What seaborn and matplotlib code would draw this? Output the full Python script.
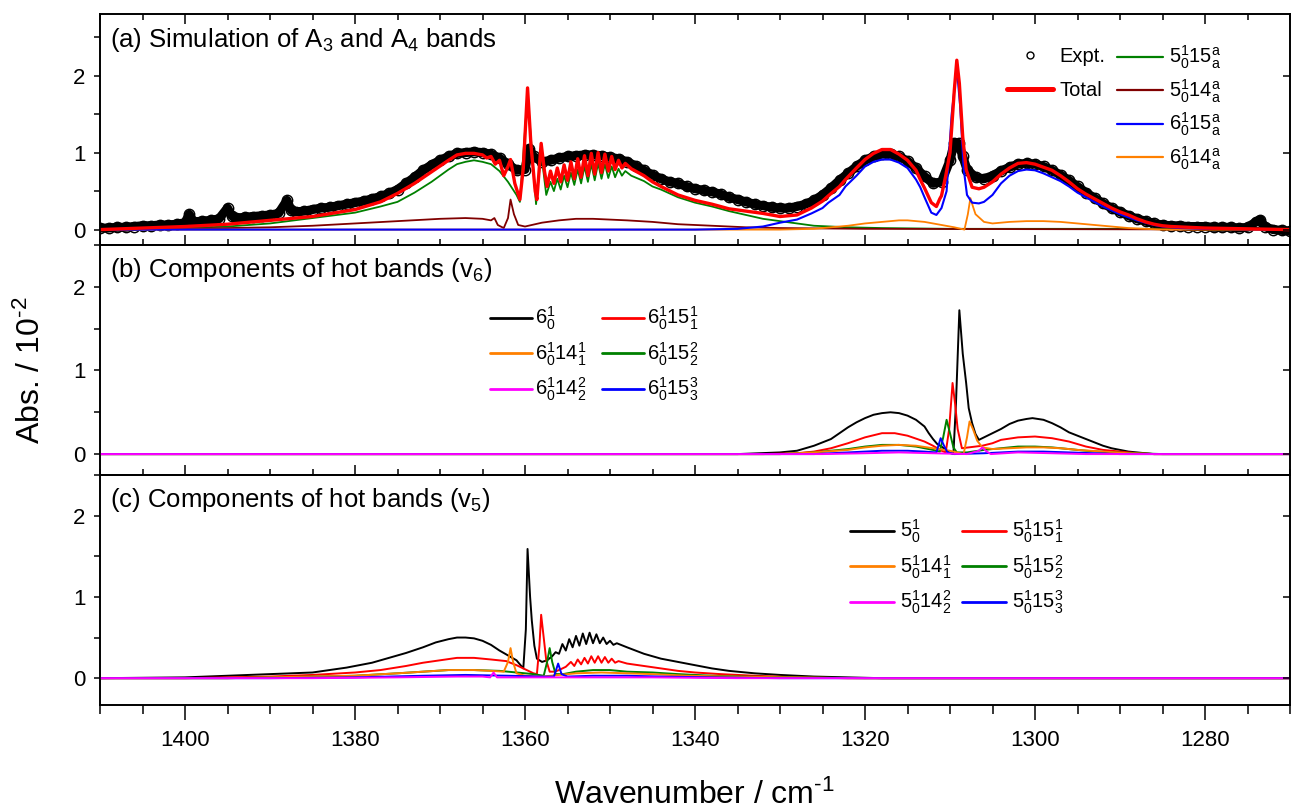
import matplotlib
matplotlib.use("Agg")
import matplotlib.pyplot as plt
import seaborn as sns
from matplotlib.lines import Line2D
from matplotlib.ticker import MultipleLocator

# ---------------- panel (a): experiment + simulated components ----------------
a_expt_x = [1410, 1409, 1408, 1407, 1406, 1405, 1404, 1403, 1402, 1401, 1400, 1399.5, 1399, 1398,
            1397, 1396, 1395, 1394.5, 1394, 1393, 1392, 1391, 1390, 1389, 1388, 1387.5, 1387, 1386,
            1385, 1384, 1383, 1382, 1381, 1380, 1379, 1378, 1377, 1376, 1375, 1374, 1373, 1372,
            1371, 1370, 1369, 1368, 1367, 1366, 1365, 1364, 1363, 1362, 1361, 1360, 1359.5, 1359,
            1358, 1357, 1356, 1355, 1354, 1353, 1352, 1351, 1350, 1349, 1348, 1347, 1346, 1345,
            1344, 1343, 1342, 1341, 1340, 1339, 1338, 1337, 1336, 1335, 1334, 1333, 1332, 1331,
            1330, 1329, 1328, 1327, 1326, 1325, 1324, 1323, 1322, 1321, 1320, 1319, 1318, 1317,
            1316, 1315, 1314, 1313, 1312, 1311, 1310, 1309.5, 1309, 1308.5, 1308, 1307, 1306, 1305,
            1304, 1303, 1302, 1301, 1300, 1299, 1298, 1297, 1296, 1295, 1294, 1293, 1292, 1291,
            1290, 1289, 1288, 1287, 1286, 1285, 1284, 1283, 1282, 1281, 1280, 1279, 1278, 1277,
            1276, 1275, 1274, 1273.5, 1273, 1272, 1271, 1270]
a_expt_y = [0.02, 0.02, 0.03, 0.03, 0.04, 0.05, 0.05, 0.06, 0.06, 0.07, 0.09, 0.2, 0.1, 0.11,
            0.12, 0.14, 0.28, 0.18, 0.15, 0.16, 0.17, 0.18, 0.19, 0.21, 0.38, 0.25, 0.23, 0.24,
            0.26, 0.28, 0.29, 0.31, 0.33, 0.35, 0.37, 0.4, 0.43, 0.47, 0.52, 0.6, 0.68, 0.77,
            0.84, 0.9, 0.95, 0.99, 1.0, 1.01, 1.0, 0.98, 0.93, 0.85, 0.77, 0.78, 1.05, 0.95,
            0.88, 0.9, 0.93, 0.95, 0.96, 0.97, 0.97, 0.96, 0.94, 0.92, 0.88, 0.83, 0.77, 0.71,
            0.66, 0.62, 0.6, 0.56, 0.53, 0.51, 0.49, 0.46, 0.42, 0.39, 0.36, 0.33, 0.31, 0.29,
            0.28, 0.28, 0.3, 0.33, 0.38, 0.45, 0.54, 0.64, 0.73, 0.82, 0.9, 0.95, 0.98, 0.98,
            0.95, 0.89, 0.8, 0.69, 0.6, 0.62, 0.9, 1.13, 1.12, 0.95, 0.78, 0.68, 0.66, 0.7,
            0.76, 0.81, 0.85, 0.86, 0.85, 0.82, 0.77, 0.71, 0.64, 0.56, 0.48, 0.41, 0.34, 0.28,
            0.23, 0.18, 0.14, 0.11, 0.08, 0.06, 0.05, 0.05, 0.04, 0.04, 0.04, 0.03, 0.03, 0.03,
            0.02, 0.03, 0.1, 0.13, 0.04, 0.0, -0.01, -0.02]

a_total_x = [1410, 1405, 1400, 1395, 1390, 1385, 1380, 1377, 1375, 1373, 1371, 1369, 1368, 1367,
             1366, 1365, 1364.5, 1364, 1363.5, 1363, 1362.5, 1362, 1361.7, 1361.2, 1360.6, 1360.2,
             1359.7, 1359.3, 1358.8, 1358.6, 1358.1, 1357.7, 1357.4,
             1357.0, 1356.6, 1356.2, 1355.8, 1355.4, 1355.0, 1354.6, 1354.2, 1353.8, 1353.4,
             1353.0, 1352.6, 1352.2, 1351.8, 1351.4, 1351.0, 1350.6, 1350.2, 1349.8, 1349.4,
             1349.0, 1348.6, 1348.2, 1347.5, 1346, 1345, 1344, 1342, 1340, 1338, 1336, 1334, 1332,
             1330, 1328, 1326.3, 1325, 1324.3, 1323, 1322.3, 1321, 1320, 1319, 1318, 1317, 1316,
             1315, 1314, 1313.5, 1313, 1312.2, 1311.6, 1311.2, 1311, 1310.5, 1310, 1309.5, 1309.2,
             1308.9, 1308.5, 1308.1, 1307.4, 1306.6, 1306, 1305, 1304, 1303, 1302, 1301, 1300,
             1299, 1298, 1297, 1296, 1295, 1294, 1293, 1292, 1291, 1290, 1289, 1288, 1287, 1286,
             1285, 1284, 1282, 1280, 1275, 1270]
a_total_y = [0.0, 0.02, 0.04, 0.07, 0.12, 0.17, 0.26, 0.36, 0.47, 0.6, 0.75, 0.9, 0.97, 0.99,
             0.99, 0.97, 0.93, 0.95, 0.85, 0.9, 0.7, 0.82, 0.91, 0.6, 0.39, 0.8,
             1.84, 1.1, 0.5, 0.39, 1.12, 0.75, 0.56,
             0.76, 0.6, 0.8, 0.62, 0.84, 0.64, 0.88, 0.66, 0.92, 0.68,
             0.96, 0.7, 0.99, 0.72, 1.0, 0.74, 0.98, 0.76, 0.95, 0.78,
             0.9, 0.8, 0.86, 0.79, 0.7, 0.62, 0.56, 0.45, 0.38, 0.33, 0.27, 0.24, 0.21,
             0.17, 0.19, 0.28, 0.37, 0.44, 0.56, 0.65, 0.8, 0.91, 0.99, 1.04, 1.04, 0.98,
             0.9, 0.77, 0.65, 0.54, 0.35, 0.3, 0.4, 0.44, 0.7, 1.0, 1.8, 2.2,
             1.9, 1.2, 0.78, 0.55, 0.53, 0.55, 0.62, 0.72, 0.8, 0.86, 0.87, 0.85,
             0.81, 0.77, 0.7, 0.62, 0.53, 0.46, 0.4, 0.34, 0.28, 0.23, 0.19, 0.14, 0.1, 0.07,
             0.05, 0.04, 0.03, 0.02, 0.01, 0.0]

a_5_15_x = [1410, 1400, 1395, 1390, 1385, 1380, 1377, 1375, 1373, 1371, 1369, 1368, 1367, 1366,
            1365, 1364, 1363, 1362, 1361, 1360.6, 1359.7, 1358.7, 1358.1, 1357.5,
            1357.0, 1356.6, 1356.2, 1355.8, 1355.4, 1355.0, 1354.6, 1354.2, 1353.8, 1353.4,
            1353.0, 1352.6, 1352.2, 1351.8, 1351.4, 1351.0, 1350.6, 1350.2, 1349.8, 1349.4,
            1349.0, 1348.6, 1348.2, 1347.5, 1346, 1345, 1344, 1342, 1340, 1338, 1336, 1334, 1332,
            1330, 1328, 1326, 1322, 1318, 1310, 1290, 1270]
a_5_15_y = [0.0, 0.02, 0.04, 0.08, 0.15, 0.22, 0.3, 0.36, 0.48, 0.62, 0.78, 0.85, 0.88, 0.9,
            0.88, 0.85, 0.76, 0.62, 0.45, 0.36, 1.75, 0.33, 1.0, 0.45,
            0.62, 0.5, 0.66, 0.52, 0.7, 0.55, 0.74, 0.58, 0.78, 0.6,
            0.82, 0.62, 0.85, 0.64, 0.86, 0.66, 0.85, 0.67, 0.82, 0.68,
            0.79, 0.7, 0.76, 0.7, 0.63, 0.56, 0.52, 0.42, 0.35, 0.3, 0.24, 0.19, 0.14,
            0.11, 0.08, 0.05, 0.03, 0.02, 0.01, 0.01, 0.01]

a_5_14_x = [1410, 1400, 1390, 1385, 1380, 1375, 1370, 1367, 1365, 1364, 1363.6, 1363.2, 1362.5,
            1362, 1361.7, 1361.3, 1360.8, 1360, 1358, 1356, 1354, 1352, 1350, 1348, 1345, 1342,
            1338, 1334, 1330, 1320, 1270]
a_5_14_y = [0.0, 0.01, 0.03, 0.05, 0.08, 0.11, 0.14, 0.15, 0.14, 0.12, 0.15, 0.06, 0.02,
            0.15, 0.39, 0.2, 0.06, 0.04, 0.09, 0.12, 0.14, 0.14, 0.13, 0.12, 0.1, 0.07,
            0.05, 0.03, 0.02, 0.01, 0.0]

a_6_15_x = [1410, 1340, 1335, 1332, 1330, 1328, 1326.3, 1325, 1324.3, 1323, 1322.3, 1321, 1320,
            1319, 1318, 1317, 1316, 1315, 1314, 1313.5, 1313, 1312.2, 1311.6, 1311, 1310.4,
            1309.8, 1309.2, 1308.8, 1308.4, 1308, 1307.4, 1306.6, 1306, 1305, 1304, 1303, 1302,
            1301, 1300, 1299, 1298, 1297, 1296, 1295, 1294, 1293, 1292, 1291, 1290, 1289, 1288,
            1287, 1286, 1285, 1283, 1280, 1270]
a_6_15_y = [0.0, 0.0, 0.01, 0.04, 0.09, 0.13, 0.21, 0.28, 0.35, 0.45, 0.56, 0.7, 0.82,
            0.88, 0.91, 0.91, 0.87, 0.8, 0.65, 0.55, 0.42, 0.22, 0.19, 0.28, 0.5,
            1.5, 2.1, 1.6, 0.8, 0.45, 0.35, 0.34, 0.36, 0.45, 0.6, 0.7, 0.76,
            0.78, 0.77, 0.73, 0.68, 0.63, 0.56, 0.48, 0.42, 0.36, 0.3, 0.25, 0.2, 0.16, 0.12,
            0.09, 0.06, 0.04, 0.02, 0.01, 0.0]

a_6_14_x = [1410, 1330, 1326, 1324, 1322, 1320, 1318, 1316, 1315, 1313, 1311, 1309.5, 1308.3,
            1307.9, 1307.6, 1307.3, 1307, 1306.5, 1306, 1305, 1303, 1301, 1299, 1297, 1295,
            1293, 1291, 1289, 1287, 1285, 1270]
a_6_14_y = [0.0, 0.0, 0.01, 0.03, 0.05, 0.08, 0.1, 0.12, 0.12, 0.1, 0.06, 0.03, 0.0,
            0.2, 0.41, 0.3, 0.2, 0.15, 0.1, 0.08, 0.1, 0.11, 0.11, 0.1, 0.08,
            0.06, 0.04, 0.02, 0.01, 0.0, 0.0]

# ---------------- panel (b): hot-band components of v6 ----------------
b_6_x = [1410, 1335, 1330, 1328, 1326, 1324, 1323, 1322, 1321, 1320, 1319, 1318, 1317, 1316,
         1315, 1314, 1313, 1312.5, 1312, 1311.5, 1311, 1310.5, 1310.1, 1309.6, 1309.3, 1308.9,
         1308.5, 1308.1, 1307.8, 1307.4, 1307, 1306.6, 1306, 1305.4, 1304, 1303, 1302, 1301,
         1300.3, 1299, 1298, 1297, 1296, 1295, 1294, 1293, 1292, 1291, 1290, 1289, 1288, 1286,
         1270]
b_6_y = [0.0, 0.0, 0.02, 0.04, 0.1, 0.18, 0.25, 0.32, 0.38, 0.43, 0.47, 0.49, 0.5, 0.49,
         0.46, 0.41, 0.33, 0.25, 0.18, 0.12, 0.09, 0.05, 0.02, 0.0, 0.6, 1.72,
         1.2, 0.85, 0.55, 0.37, 0.24, 0.17, 0.2, 0.23, 0.3, 0.36, 0.4, 0.42,
         0.43, 0.41, 0.37, 0.32, 0.26, 0.22, 0.18, 0.14, 0.1, 0.07, 0.05, 0.03, 0.02, 0.0,
         0.0]

b_6_15_1_x = [1410, 1332, 1328, 1326, 1324, 1322, 1320, 1318, 1316.5, 1315, 1313, 1312, 1311,
              1310.5, 1310.1, 1309.7, 1309.4, 1309.1, 1308.6, 1307.8, 1306.2, 1305, 1304, 1302,
              1300, 1298, 1296, 1294, 1292, 1290, 1288, 1286, 1270]
b_6_15_1_y = [0.0, 0.0, 0.01, 0.03, 0.07, 0.13, 0.2, 0.25, 0.25, 0.22, 0.15, 0.1, 0.04,
              0.02, 0.3, 0.85, 0.6, 0.3, 0.07, 0.08, 0.1, 0.13, 0.17, 0.2,
              0.21, 0.19, 0.15, 0.09, 0.05, 0.03, 0.01, 0.0, 0.0]

b_6_15_2_x = [1410, 1330, 1326, 1322, 1320, 1318, 1316, 1314, 1312, 1311.2, 1310.8, 1310.4,
              1310, 1309.6, 1309.2, 1308, 1306, 1304, 1302, 1300, 1298, 1296, 1294, 1291, 1288,
              1285, 1270]
b_6_15_2_y = [0.0, 0.0, 0.02, 0.06, 0.09, 0.11, 0.11, 0.09, 0.05, 0.03, 0.2, 0.41,
              0.25, 0.08, 0.02, 0.02, 0.05, 0.07, 0.09, 0.09, 0.08, 0.06, 0.04, 0.02, 0.01,
              0.0, 0.0]

b_6_14_1_x = [1410, 1330, 1326, 1322, 1320, 1318, 1316, 1314, 1312, 1310, 1308.4, 1308, 1307.7,
              1307.3, 1306.8, 1306.2, 1305, 1303, 1301, 1299, 1297, 1295, 1292, 1289, 1286, 1270]
b_6_14_1_y = [0.0, 0.0, 0.02, 0.05, 0.08, 0.1, 0.11, 0.1, 0.07, 0.04, 0.0, 0.2, 0.39,
              0.3, 0.16, 0.08, 0.06, 0.07, 0.08, 0.08, 0.07, 0.05, 0.03, 0.01, 0.0, 0.0]

b_6_15_3_x = [1410, 1326, 1322, 1318, 1315, 1313, 1311.6, 1311.1, 1310.7, 1310.3, 1309.5, 1306,
              1302, 1299, 1296, 1293, 1290, 1270]
b_6_15_3_y = [0.0, 0.0, 0.02, 0.04, 0.04, 0.03, 0.02, 0.19, 0.1, 0.02, 0.0, 0.01,
              0.03, 0.03, 0.02, 0.01, 0.0, 0.0]

b_6_14_2_x = [1410, 1325, 1320, 1316, 1312, 1308, 1306.6, 1306.2, 1305.8, 1305.2, 1302, 1298,
              1294, 1270]
b_6_14_2_y = [0.0, 0.0, 0.01, 0.02, 0.01, 0.0, 0.04, 0.08, 0.04, 0.0, 0.02, 0.01,
              0.0, 0.0]

# ---------------- panel (c): hot-band components of v5 ----------------
c_5_x = [1410, 1400, 1395, 1390, 1385, 1381, 1378, 1376, 1374, 1372, 1370.5, 1369, 1368, 1367,
         1366, 1365, 1364, 1363, 1362, 1361, 1360.6, 1360.2, 1359.9, 1359.7, 1359.4, 1359.2,
         1358.9, 1358.6, 1358, 1357.4, 1356.8, 1356.4, 1356, 1355.6, 1355.2, 1354.8, 1354.4,
         1354, 1353.6, 1353.2, 1352.8, 1352.4, 1352, 1351.6, 1351.2, 1350.8, 1350.4, 1350,
         1349.6, 1349.2, 1348, 1347, 1346, 1345, 1344, 1343, 1342, 1340, 1338, 1336, 1333,
         1330, 1326, 1322, 1318, 1270]
c_5_y = [0.0, 0.01, 0.03, 0.05, 0.07, 0.13, 0.19, 0.25, 0.31, 0.38, 0.44, 0.48, 0.5, 0.5,
         0.49, 0.46, 0.41, 0.34, 0.28, 0.22, 0.17, 0.12, 0.6, 1.59, 1.0, 0.71,
         0.4, 0.24, 0.2, 0.22, 0.27, 0.32, 0.3, 0.42, 0.34, 0.48, 0.38,
         0.52, 0.4, 0.55, 0.42, 0.56, 0.43, 0.54, 0.43, 0.5, 0.42, 0.46,
         0.41, 0.43, 0.38, 0.34, 0.3, 0.27, 0.24, 0.22, 0.2, 0.16, 0.12, 0.09, 0.06,
         0.04, 0.02, 0.01, 0.0, 0.0]

c_5_15_1_x = [1410, 1400, 1390, 1385, 1380, 1377, 1374, 1372, 1370, 1368, 1366, 1364, 1362.2,
              1361, 1359.8, 1359, 1358.6, 1358.3, 1358.1, 1357.8, 1357.5, 1357.1, 1356.5, 1356,
              1355.2, 1354.6, 1354.2, 1353.8, 1353.4, 1353, 1352.6, 1352.2, 1351.8, 1351.4,
              1351, 1350.6, 1350.2, 1349.8, 1349.4, 1349, 1348, 1346, 1344, 1342, 1340, 1337,
              1333, 1328, 1322, 1270]
c_5_15_1_y = [0.0, 0.0, 0.02, 0.04, 0.07, 0.1, 0.15, 0.19, 0.22, 0.25, 0.25, 0.23, 0.21,
              0.16, 0.1, 0.06, 0.05, 0.4, 0.78, 0.5, 0.22, 0.08, 0.08, 0.1,
              0.14, 0.2, 0.15, 0.23, 0.17, 0.25, 0.18, 0.27, 0.19, 0.27,
              0.19, 0.26, 0.19, 0.24, 0.19, 0.21, 0.18, 0.15, 0.12, 0.09, 0.07, 0.05,
              0.03, 0.01, 0.0, 0.0]

c_5_15_2_x = [1410, 1395, 1385, 1380, 1375, 1372, 1369, 1366, 1363, 1361, 1359, 1357.8, 1357.4,
              1357.1, 1356.8, 1356.4, 1355.5, 1354, 1352, 1350, 1348, 1345, 1342, 1338, 1334,
              1328, 1320, 1270]
c_5_15_2_y = [0.0, 0.0, 0.02, 0.03, 0.06, 0.08, 0.1, 0.1, 0.09, 0.07, 0.05, 0.03, 0.2,
              0.37, 0.2, 0.05, 0.05, 0.08, 0.1, 0.1, 0.08, 0.07, 0.05, 0.03, 0.02,
              0.01, 0.0, 0.0]

c_5_14_1_x = [1410, 1395, 1385, 1380, 1375, 1372, 1369, 1366, 1364, 1362.5, 1362, 1361.7,
              1361.4, 1361, 1360, 1358, 1356, 1354, 1351, 1348, 1345, 1341, 1336, 1330, 1322,
              1270]
c_5_14_1_y = [0.0, 0.0, 0.02, 0.03, 0.06, 0.08, 0.1, 0.1, 0.09, 0.08, 0.2, 0.37,
              0.2, 0.06, 0.03, 0.02, 0.04, 0.06, 0.07, 0.06, 0.05, 0.03, 0.02, 0.01, 0.0,
              0.0]

c_5_15_3_x = [1410, 1390, 1380, 1372, 1367, 1362, 1358, 1356.6, 1356.1, 1355.7, 1355, 1352,
              1348, 1344, 1338, 1330, 1270]
c_5_15_3_y = [0.0, 0.0, 0.01, 0.03, 0.04, 0.03, 0.02, 0.02, 0.18, 0.05, 0.02, 0.03,
              0.03, 0.02, 0.01, 0.0, 0.0]

c_5_14_2_x = [1410, 1385, 1375, 1368, 1365, 1364.1, 1363.7, 1363.3, 1360, 1355, 1350, 1345,
              1335, 1270]
c_5_14_2_y = [0.0, 0.0, 0.01, 0.02, 0.02, 0.01, 0.07, 0.01, 0.01, 0.01, 0.01, 0.01,
              0.0, 0.0]

GREEN, BROWN, BLUE, ORANGE = "#008000", "#800000", "#0000FF", "#FF8000"
RED, MAGENTA, BLACK = "#FF0000", "#FF00FF", "#000000"

sns.set_theme(style="ticks")
plt.rcParams["font.family"] = ["Liberation Sans", "DejaVu Sans"]
plt.rcParams["mathtext.fontset"] = "custom"
plt.rcParams["mathtext.rm"] = "Liberation Sans"
plt.rcParams["mathtext.it"] = "Liberation Sans:italic"
plt.rcParams["mathtext.bf"] = "Liberation Sans:bold"
plt.rcParams["mathtext.default"] = "regular"
plt.rcParams["axes.linewidth"] = 1.2
for key in ("text.color", "axes.labelcolor", "axes.edgecolor", "xtick.color", "ytick.color",
            "xtick.labelcolor", "ytick.labelcolor"):
    plt.rcParams[key] = "black"


def curve(ax, x, y, color, lw, z):
    sns.lineplot(x=x, y=y, ax=ax, color=color, linewidth=lw, sort=False,
                 estimator=None, legend=False, zorder=z)


fig = plt.figure(figsize=(12.91, 8.10), dpi=100)
W, H = 1291, 810
left, width = 100 / W, 1190 / W
ax_a = fig.add_axes([left, 1 - 245 / H, width, 231 / H])
ax_b = fig.add_axes([left, 1 - 475 / H, width, 230 / H])
ax_c = fig.add_axes([left, 1 - 705 / H, width, 230 / H])

# panel (a)
sns.lineplot(x=a_expt_x, y=a_expt_y, ax=ax_a, color=BLACK, linewidth=6.5, marker="o",
             markersize=7.5, markerfacecolor="none", markeredgecolor=BLACK,
             markeredgewidth=1.0, sort=False, estimator=None, legend=False, zorder=1)
curve(ax_a, a_5_15_x, a_5_15_y, GREEN, 1.3, 2)
curve(ax_a, a_5_14_x, a_5_14_y, BROWN, 1.3, 3)
curve(ax_a, a_6_14_x, a_6_14_y, ORANGE, 1.3, 4)
curve(ax_a, a_6_15_x, a_6_15_y, BLUE, 1.5, 5)
curve(ax_a, a_total_x, a_total_y, RED, 2.4, 6)

# panel (b)
curve(ax_b, b_6_x, b_6_y, BLACK, 1.4, 2)
curve(ax_b, b_6_15_1_x, b_6_15_1_y, RED, 1.4, 3)
curve(ax_b, b_6_15_2_x, b_6_15_2_y, GREEN, 1.4, 4)
curve(ax_b, b_6_14_1_x, b_6_14_1_y, ORANGE, 1.4, 5)
curve(ax_b, b_6_15_3_x, b_6_15_3_y, BLUE, 1.4, 6)
curve(ax_b, b_6_14_2_x, b_6_14_2_y, MAGENTA, 1.4, 7)

# panel (c)
curve(ax_c, c_5_x, c_5_y, BLACK, 1.4, 2)
curve(ax_c, c_5_15_1_x, c_5_15_1_y, RED, 1.4, 3)
curve(ax_c, c_5_15_2_x, c_5_15_2_y, GREEN, 1.4, 4)
curve(ax_c, c_5_14_1_x, c_5_14_1_y, ORANGE, 1.4, 5)
curve(ax_c, c_5_15_3_x, c_5_15_3_y, BLUE, 1.4, 6)
curve(ax_c, c_5_14_2_x, c_5_14_2_y, MAGENTA, 1.4, 7)

ylims = {ax_a: (-0.2, 2.8), ax_b: (-0.25, 2.5), ax_c: (-0.33, 2.5)}
for ax in (ax_a, ax_b, ax_c):
    ax.set_xlim(1410, 1270)
    ax.set_ylim(*ylims[ax])
    ax.set_xlabel("")
    ax.set_ylabel("")
    ax.set_yticks([0, 1, 2])
    ax.yaxis.set_minor_locator(MultipleLocator(0.5))
    ax.set_xticks([1400, 1380, 1360, 1340, 1320, 1300, 1280])
    ax.xaxis.set_minor_locator(MultipleLocator(5))
    ax.tick_params(axis="y", which="major", direction="out", length=4.5, width=1.1,
                   labelsize=16, pad=6, right=False)
    ax.tick_params(axis="y", which="minor", direction="out", length=4, width=1.1, right=False)
    for s in ax.spines.values():
        s.set_visible(True)
        s.set_color("black")
    # inward ticks on the right side
    tw = ax.twinx()
    tw.set_ylim(*ylims[ax])
    tw.set_yticks([0, 1, 2])
    tw.tick_params(axis="y", direction="in", length=5, width=1.1, labelright=False)
    tw.grid(False)

for ax in (ax_a, ax_b):
    ax.tick_params(axis="x", which="major", direction="in", length=7, width=1.1,
                   labelbottom=False)
    ax.tick_params(axis="x", which="minor", direction="in", length=4, width=1.1)
ax_a.tick_params(axis="x", which="both", top=True)
ax_c.tick_params(axis="x", which="major", direction="out", length=11, width=1.1,
                 labelsize=16, pad=7)
ax_c.tick_params(axis="x", which="minor", direction="out", length=6.5, width=1.1)

# panel titles
title_kw = dict(fontsize=18.5, va="baseline", ha="left")
ax_a.text(0.0085, 0.858, "(a) Simulation of A$_3$ and A$_4$ bands", transform=ax_a.transAxes,
          **title_kw)
ax_b.text(0.0085, 0.862, "(b) Components of hot bands (v$_6$)", transform=ax_b.transAxes,
          **title_kw)
ax_c.text(0.0085, 0.862, "(c) Components of hot bands (v$_5$)", transform=ax_c.transAxes,
          **title_kw)

fig.text(0.024, 0.543, r"Abs. / 10$^{\text{-2}}$", rotation=90, ha="center", va="center",
         fontsize=23)
fig.text(0.538, 0.008, r"Wavenumber / cm$^{\text{-1}}$", ha="center", va="baseline",
         fontsize=23)


# legends
def h(color, lw=1.6):
    return Line2D([], [], color=color, linewidth=lw)


leg_kw = dict(frameon=False, fontsize=14.5, borderpad=0, borderaxespad=0,
              bbox_transform=fig.transFigure, loc="upper left")

leg1 = ax_a.legend([Line2D([], [], ls="", marker="o", ms=5, mfc="none", mec=BLACK, mew=1),
                    h(RED, 3.6)], ["Expt.", "Total"],
                   bbox_to_anchor=(1007 / W, 1 - 47 / H), handlelength=2.3,
                   handletextpad=0.3, labelspacing=0.75, **leg_kw)
ax_a.add_artist(leg1)
ax_a.legend([h(GREEN), h(BROWN), h(BLUE), h(ORANGE)],
            [r"$5^{1}_{0}15^{a}_{a}$", r"$5^{1}_{0}14^{a}_{a}$",
             r"$6^{1}_{0}15^{a}_{a}$", r"$6^{1}_{0}14^{a}_{a}$"],
            bbox_to_anchor=(1117 / W, 1 - 44 / H), handlelength=2.3,
            handletextpad=0.3, labelspacing=0.3, **leg_kw)

ax_b.legend([h(BLACK, 2), h(ORANGE, 2), h(MAGENTA, 2), h(RED, 2), h(GREEN, 2), h(BLUE, 2)],
            [r"$6^{1}_{0}$", r"$6^{1}_{0}14^{1}_{1}$", r"$6^{1}_{0}14^{2}_{2}$",
             r"$6^{1}_{0}15^{1}_{1}$", r"$6^{1}_{0}15^{2}_{2}$", r"$6^{1}_{0}15^{3}_{3}$"],
            ncol=2, bbox_to_anchor=(490 / W, 1 - 305 / H), handlelength=2.1,
            handletextpad=0.15, columnspacing=0.75, labelspacing=0.4, **leg_kw)

ax_c.legend([h(BLACK, 2), h(ORANGE, 2), h(MAGENTA, 2), h(RED, 2), h(GREEN, 2), h(BLUE, 2)],
            [r"$5^{1}_{0}$", r"$5^{1}_{0}14^{1}_{1}$", r"$5^{1}_{0}14^{2}_{2}$",
             r"$5^{1}_{0}15^{1}_{1}$", r"$5^{1}_{0}15^{2}_{2}$", r"$5^{1}_{0}15^{3}_{3}$"],
            ncol=2, bbox_to_anchor=(850 / W, 1 - 518 / H), handlelength=2.2,
            handletextpad=0.3, columnspacing=0.5, labelspacing=0.4, **leg_kw)

fig.savefig("out.png", dpi=100)
